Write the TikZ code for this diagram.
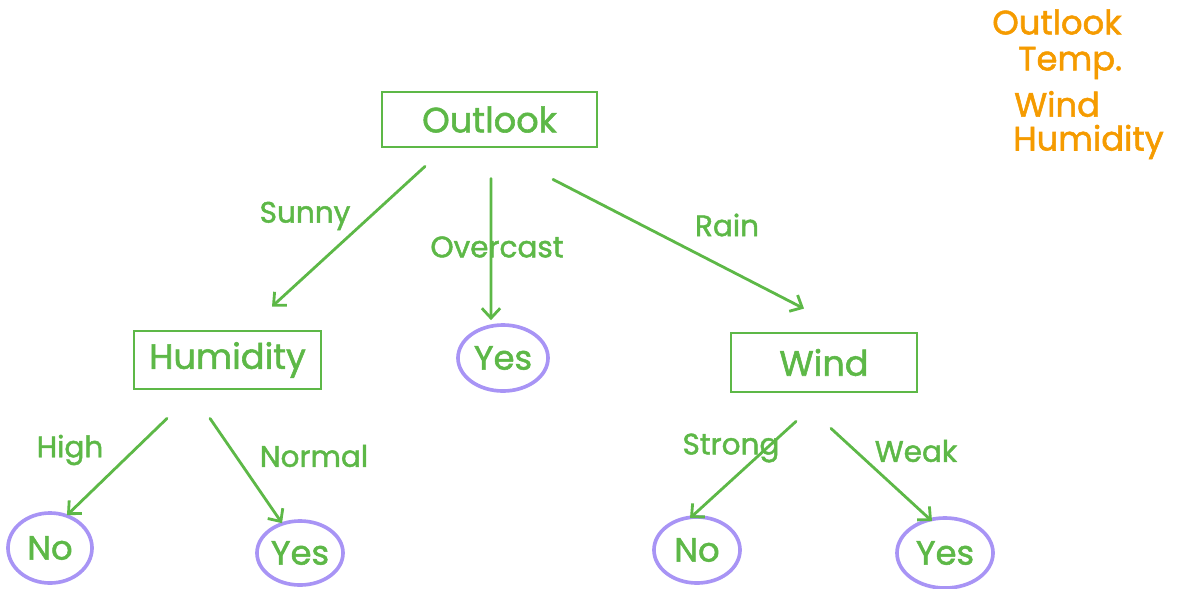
\documentclass[tikz,border=0pt]{standalone}
\usepackage{fontspec}
\setmainfont{Poppins}[FakeBold=1.6,AutoFakeBold=1.6]
\usetikzlibrary{arrows.meta,shapes.geometric,calc}
\definecolor{treegreen}{HTML}{5DB847}
\definecolor{leafring}{HTML}{A894F5}
\definecolor{noteorange}{HTML}{F59B00}
\begin{document}
\begin{tikzpicture}[x=0.025cm,y=-0.025cm,
  attrbox/.style={draw=treegreen, line width=2pt, text=treegreen, inner sep=0pt,
    font=\fontsize{25}{30}\selectfont\bfseries},
  leafnode/.style={ellipse, draw=leafring, line width=2.6pt, text=treegreen, inner sep=0pt,
    font=\fontsize{24}{28}\selectfont\bfseries},
  branch/.style={draw=treegreen, line width=2pt, line cap=round,
    -{Straight Barb[length=7pt,width=13pt,line width=2pt]}},
  branchlbl/.style={text=treegreen, font=\fontsize{21}{25}\selectfont\bfseries, inner sep=0pt},
  notetext/.style={text=noteorange, font=\fontsize{24}{28}\selectfont\bfseries, inner sep=0pt, anchor=west}]
\useasboundingbox (0,0) rectangle (1197,588);

% attribute boxes
\node[attrbox, minimum width=5.375cm, minimum height=1.375cm] (outlook) at (489.5,119.5) {Outlook};
\node[attrbox, minimum width=4.675cm, minimum height=1.45cm] (humidity) at (227.5,360) {Humidity};
\node[attrbox, minimum width=4.65cm, minimum height=1.475cm] (wind) at (824,362.5) {Wind};

% leaves
\node[leafnode, minimum width=2.25cm, minimum height=1.65cm] (yesover) at (503,358) {Yes};
\node[leafnode, minimum width=2.1cm, minimum height=1.75cm] (nohigh) at (50,548) {No};
\node[leafnode, minimum width=2.15cm, minimum height=1.6cm] (yesnormal) at (300,553) {Yes};
\node[leafnode, minimum width=2.15cm, minimum height=1.65cm] (nostrong) at (697,550) {No};
\node[leafnode, minimum width=2.4cm, minimum height=1.75cm] (yesweak) at (945,553) {Yes};

% branches
\draw[branch] ($(outlook.south)+(-64.5,18)$) -- ($(humidity.north)+(44.5,-23)$);
\draw[branch] ($(outlook.south)+(1.5,30)$) -- ($(yesover.north)+(-12,-3)$);
\draw[branch] ($(outlook.south)+(63.5,31)$) -- ($(wind.north)+(-20,-23)$);
\draw[branch] ($(humidity.south)+(-60.5,28)$) -- ($(nohigh.north)+(17,4)$);
\draw[branch] ($(humidity.south)+(-17.5,28)$) -- ($(yesnormal.north)+(-18,4)$);
\draw[branch] ($(wind.south)+(-28,28)$) -- ($(nostrong.north)+(-7,3)$);
\draw[branch] ($(wind.south)+(7,35)$) -- ($(yesweak.north)+(-13,5)$);

% branch labels
\node[branchlbl] (lsunny) at (305,216) {Sunny};
\node[branchlbl] (lover) at (497,247) {Overcast};
\node[branchlbl] (lrain) at (727,225) {Rain};
\node[branchlbl] (lhigh) at (70,450) {High};
\node[branchlbl] (lnormal) at (314,456) {Normal};
\node[branchlbl] (lstrong) at (731,448) {Strong};
\node[branchlbl] (lweak) at (916,451) {Weak};

% attribute list
\node[notetext] (n1) at (992,22) {Outlook};
\node[notetext] (n2) at (1018,63) {Temp.};
\node[notetext] (n3) at (1014,104) {Wind};
\node[notetext] (n4) at (1013,142) {Humidity};
\end{tikzpicture}
\end{document}
